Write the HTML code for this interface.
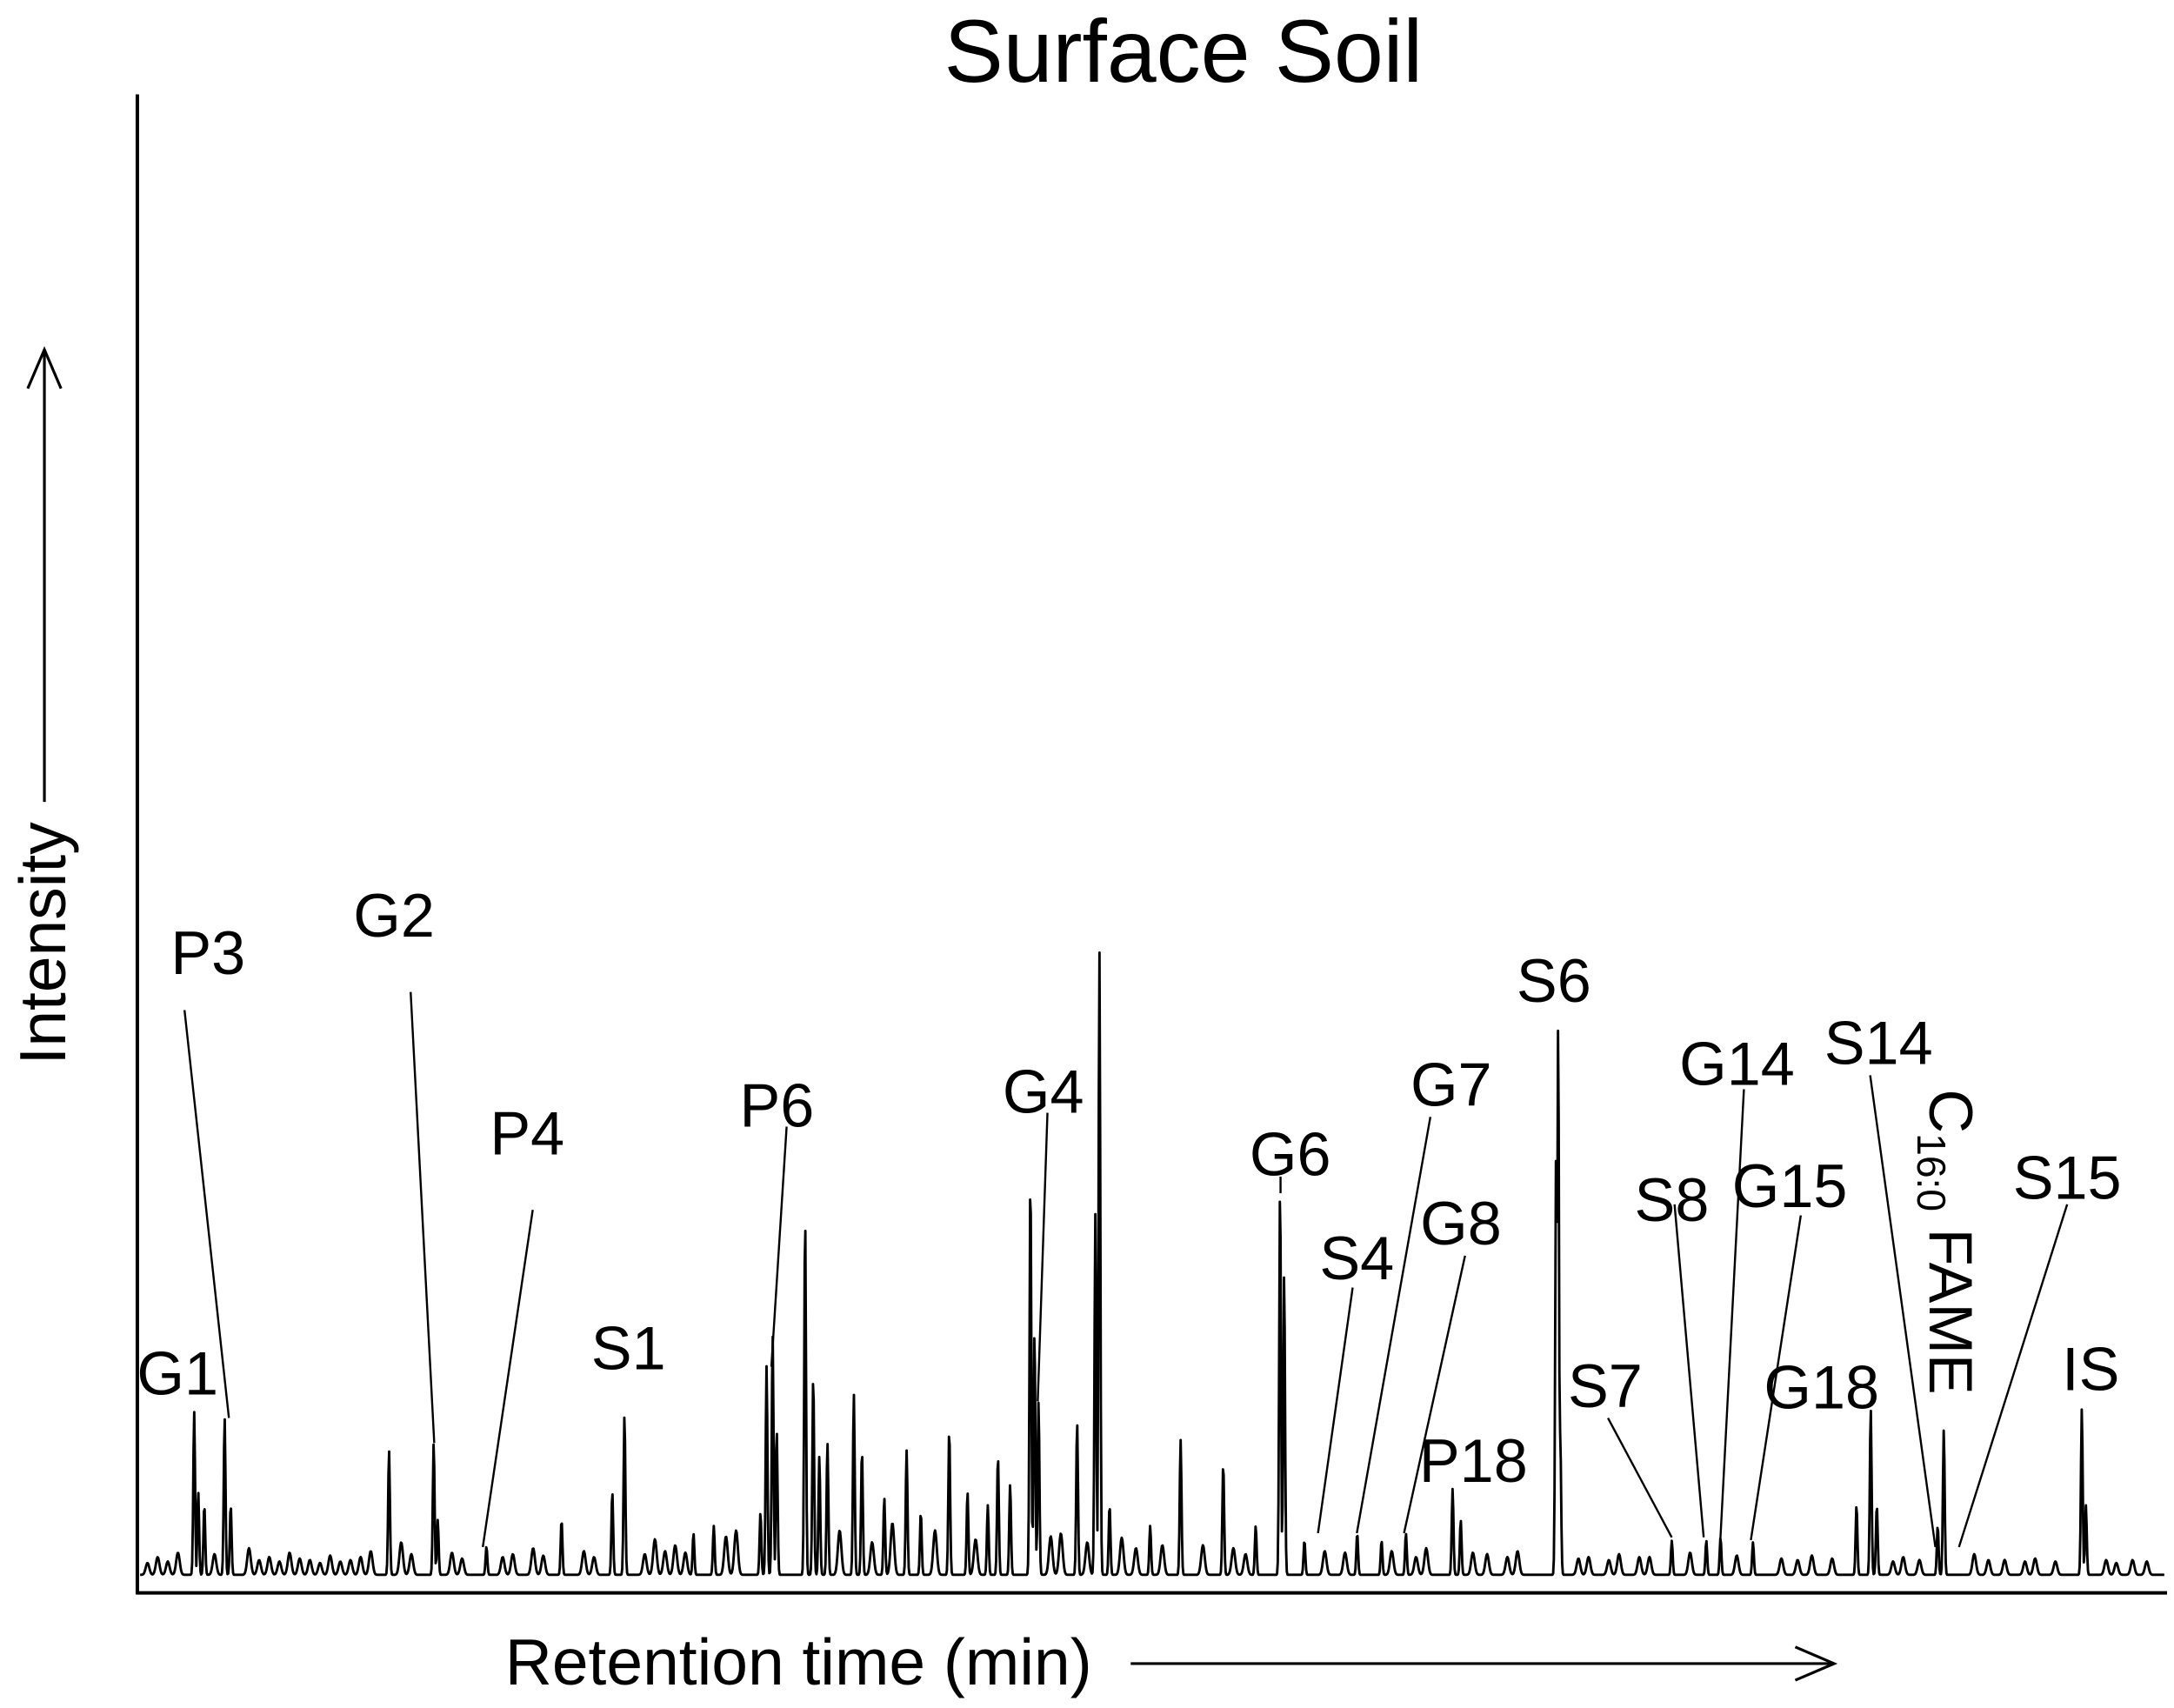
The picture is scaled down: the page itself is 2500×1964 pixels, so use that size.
<!DOCTYPE html>
<html><head><meta charset="utf-8"><style>
html,body{margin:0;padding:0;background:#fff;}
svg{display:block;}
text{font-family:"Liberation Sans",Arial,sans-serif;fill:#000;}
</style></head><body>
<svg id="chart" width="2500" height="1964" viewBox="0 0 1567 1231" preserveAspectRatio="none" xmlns="http://www.w3.org/2000/svg">
<rect width="1567" height="1231" fill="#fff"/>
<text x="853" y="59" font-size="64" text-anchor="middle">Surface Soil</text>
<line x1="99" y1="68" x2="99" y2="1149" stroke="#000" stroke-width="2.5"/>
<line x1="98" y1="1148" x2="1562" y2="1148" stroke="#000" stroke-width="2.5"/>
<text transform="translate(47,680) rotate(-90)" font-size="47" text-anchor="middle">Intensity</text>
<g>
<line x1="32" y1="578" x2="32" y2="252" stroke="#000" stroke-width="2"/>
<polyline points="20,280 32,252 44,280" fill="none" stroke="#000" stroke-width="2"/>
</g>
<text x="364" y="1214" font-size="47">Retention time (min)</text>
<g>
<line x1="815" y1="1199" x2="1322" y2="1199" stroke="#000" stroke-width="2"/>
<polyline points="1294,1187 1322,1199 1294,1211" fill="none" stroke="#000" stroke-width="2"/>
</g>
<path id="trace" fill="none" stroke="#000" stroke-width="1.8" stroke-linejoin="round"/>
<g id="labels" stroke="#000" stroke-width="1.5">
<text x="128" y="1005" font-size="44" text-anchor="middle" stroke="none">G1</text>
<text x="150" y="702" font-size="44" text-anchor="middle" stroke="none">P3</text>
<line x1="133" y1="728" x2="165" y2="1022"/>
<text x="284" y="675" font-size="44" text-anchor="middle" stroke="none">G2</text>
<line x1="296" y1="715" x2="313" y2="1040"/>
<text x="380" y="832" font-size="44" text-anchor="middle" stroke="none">P4</text>
<line x1="384" y1="872" x2="348" y2="1115"/>
<text x="453" y="987" font-size="44" text-anchor="middle" stroke="none">S1</text>
<text x="560" y="812" font-size="44" text-anchor="middle" stroke="none">P6</text>
<line x1="567" y1="812" x2="556" y2="985"/>
<text x="752" y="802" font-size="44" text-anchor="middle" stroke="none">G4</text>
<line x1="755" y1="802" x2="748" y2="1010"/>
<text x="930" y="847" font-size="44" text-anchor="middle" stroke="none">G6</text>
<line x1="923" y1="848" x2="923" y2="860"/>
<text x="978" y="922" font-size="44" text-anchor="middle" stroke="none">S4</text>
<line x1="975" y1="928" x2="950" y2="1105"/>
<text x="1046" y="797" font-size="44" text-anchor="middle" stroke="none">G7</text>
<line x1="1031" y1="805" x2="978" y2="1105"/>
<text x="1053" y="897" font-size="44" text-anchor="middle" stroke="none">G8</text>
<line x1="1056" y1="905" x2="1012" y2="1105"/>
<text x="1062" y="1068" font-size="44" text-anchor="middle" stroke="none">P18</text>
<text x="1120" y="722" font-size="44" text-anchor="middle" stroke="none">S6</text>
<text x="1157" y="1014" font-size="44" text-anchor="middle" stroke="none">S7</text>
<line x1="1159" y1="1022" x2="1205" y2="1108"/>
<text x="1205" y="880" font-size="44" text-anchor="middle" stroke="none">S8</text>
<line x1="1207" y1="868" x2="1228" y2="1108"/>
<text x="1252" y="782" font-size="44" text-anchor="middle" stroke="none">G14</text>
<line x1="1257" y1="785" x2="1240" y2="1110"/>
<text x="1290" y="870" font-size="44" text-anchor="middle" stroke="none">G15</text>
<line x1="1298" y1="876" x2="1262" y2="1110"/>
<text x="1313" y="1015" font-size="44" text-anchor="middle" stroke="none">G18</text>
<text x="1354" y="767" font-size="44" text-anchor="middle" stroke="none">S14</text>
<line x1="1348" y1="775" x2="1395" y2="1115"/>
<text transform="translate(1391,785) rotate(90)" font-size="44" stroke="none">C<tspan font-size="29" dy="9">16:0</tspan><tspan dy="-9"> FAME</tspan></text>
<text x="1490" y="864" font-size="44" text-anchor="middle" stroke="none">S15</text>
<line x1="1490" y1="868" x2="1412" y2="1115"/>
<text x="1507" y="1002" font-size="44" text-anchor="middle" stroke="none">IS</text>
</g>
</svg>
<script>
const peakTimes = [2.8,3.0,3.3,4.3,4.6,12.4,14.6,14.8,17.2,20.9,23.4,24.0,27.4,28.4,30.7,31.0,31.3,31.5,32.9,33.3,33.6,34.0,35.3,35.7,36.8,37.9,38.6,40.0,40.9,41.9,42.4,43.0,44.0,44.2,44.4,46.3,47.2,47.4,47.9,49.9,51.4,53.5,55.1,56.3,56.5,57.5,60.1,61.3,62.5,64.8,65.2,69.9,70.0,70.1,75.6,77.3,78.0,79.6,84.7,85.4,85.7,88.7,89.0,95.8,96.0];
const peakHeights = [11.0,5.6,4.7,10.6,4.7,8.4,8.9,3.7,1.9,3.7,5.6,10.8,2.8,3.3,4.2,14.1,16.2,9.8,24.1,13.4,8.0,8.9,12.2,8.4,5.2,8.4,4.2,9.8,5.6,4.7,8.0,6.1,26.9,16.4,11.7,10.3,24.4,42.1,4.7,3.3,9.1,7.5,3.3,26.1,20.3,2.3,2.8,2.3,2.8,5.8,3.7,28.6,37.2,9.8,2.3,2.3,2.5,2.2,4.7,11.2,4.7,3.3,9.8,11.2,4.7];
const minorTimes = [0.5,1,1.5,2,3.8,5.5,6,6.5,7,7.5,8,8.5,9,9.5,10,10.5,11,11.5,13,13.5,15.5,16,18,18.5,19.5,20,22,22.5,25,25.5,26,26.5,27,29,29.5,34.6,36.2,37.2,39.3,41.3,45,45.5,46.8,48.5,49.2,50.5,52.5,54,54.6,58.5,59.5,61.8,63,63.5,65.8,66.5,67.5,68,71,71.5,72.5,73,74,74.5,76.5,78.8,81,81.8,82.5,83.5,86.5,87,87.8,90.5,91.2,92,93,93.5,94.5,97,97.5,98.3,99];
const minorHeights = [0.8,1.2,0.9,1.5,1.4,1.8,1.0,1.2,0.9,1.5,1.1,1.0,0.8,1.3,0.9,1.0,1.2,1.6,2.2,1.4,1.5,1.1,1.2,1.4,1.8,1.3,1.6,1.2,1.4,2.4,1.6,2.0,1.5,2.6,3.0,3.0,2.2,3.5,3.0,2.4,2.6,2.8,2.2,2.5,1.8,2.0,2.0,1.8,1.4,1.6,1.5,1.6,1.2,1.8,1.5,1.4,1.2,1.6,1.1,1.2,1.0,1.4,1.2,1.2,1.5,1.3,1.1,1.0,1.3,1.1,0.9,1.2,1.0,1.4,1.0,1.0,0.9,1.1,0.9,1.0,0.8,1.0,0.9];
const X0=99,X1=1562,BASE=1135,TOP=68;
function xScale(t){return X0+t/100*(X1-X0);}
function yScale(v){return BASE-v/100*(BASE-TOP);}
let d='';
for(let px=101;px<=1560;px+=0.5){
  let v=0;
  for(let i=0;i<peakTimes.length;i++){const dx=(px-xScale(peakTimes[i]))/0.9;if(Math.abs(dx)<6)v=Math.max(v,peakHeights[i]*Math.exp(-dx*dx));}
  for(let i=0;i<minorTimes.length;i++){const dx=(px-xScale(minorTimes[i]))/1.8;if(Math.abs(dx)<5)v+=minorHeights[i]*Math.exp(-dx*dx);}
  d+=(d?'L':'M')+px.toFixed(1)+','+yScale(v).toFixed(1);
}
const tr=document.getElementById('trace');
tr.setAttribute('d',d);
</script>
</body></html>
